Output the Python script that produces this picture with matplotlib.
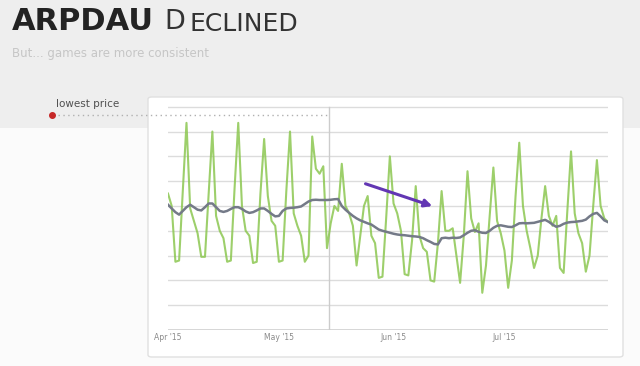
import matplotlib.pyplot as plt
from matplotlib.patches import FancyBboxPatch, Rectangle
from matplotlib.lines import Line2D

# --- data (daily values, arbitrary units) ---
daily = [
    5.5, 5.0, 2.75, 2.8, 5.6, 8.35, 4.9, 4.4, 3.9, 2.95,
    2.95, 5.5, 8.0, 4.6, 4.0, 3.7, 2.75, 2.8, 5.7, 8.35,
    5.0, 4.0, 3.8, 2.7, 2.75, 5.5, 7.7, 5.4, 4.4, 4.2,
    2.75, 2.8, 5.6, 8.0, 4.7, 4.2, 3.8, 2.75, 3.0, 7.8,
    6.5, 6.3, 6.6, 3.3, 4.3, 5.0, 4.8, 6.7, 5.0, 4.7,
    4.2, 2.6, 3.8, 5.0, 5.4, 3.8, 3.5, 2.1, 2.15, 4.5,
    7.0, 5.1, 4.7, 4.0, 2.25, 2.2, 3.6, 5.8, 3.8, 3.3,
    3.15, 2.0, 1.95, 3.5, 5.6, 4.0, 4.0, 4.1, 3.0, 1.9,
    3.8, 6.4, 4.5, 3.95, 4.3, 1.5, 2.6, 4.6, 6.55, 4.4,
    3.9, 3.2, 1.7, 2.8, 5.4, 7.55, 5.0, 4.0, 3.3, 2.5,
    3.0, 4.5, 5.8, 4.6, 4.2, 4.6, 2.5, 2.3, 4.8, 7.2,
    4.7, 3.9, 3.5, 2.35, 3.0, 5.0, 6.85, 5.0, 4.5, 4.35,
]
weekly_avg = [
    5.05, 4.9, 4.75, 4.65, 4.8, 4.95, 5.05, 4.95, 4.85, 4.82,
    4.95, 5.1, 5.1, 4.95, 4.8, 4.76, 4.8, 4.88, 4.95, 4.95,
    4.88, 4.78, 4.72, 4.75, 4.82, 4.9, 4.9, 4.8, 4.68, 4.58,
    4.6, 4.8, 4.9, 4.92, 4.93, 4.95, 4.98, 5.08, 5.18, 5.24,
    5.25, 5.24, 5.24, 5.24, 5.25, 5.27, 5.28, 5.0, 4.85, 4.72,
    4.6, 4.5, 4.42, 4.36, 4.3, 4.25, 4.15, 4.05, 4.0, 3.96,
    3.92, 3.88, 3.85, 3.83, 3.82, 3.8, 3.78, 3.77, 3.75, 3.7,
    3.62, 3.55, 3.47, 3.45, 3.7, 3.72, 3.7, 3.72, 3.71, 3.73,
    3.82, 3.92, 4.0, 4.02, 3.96, 3.92, 3.91, 4.0, 4.12, 4.2,
    4.22, 4.19, 4.16, 4.15, 4.22, 4.3, 4.31, 4.3, 4.31, 4.32,
    4.36, 4.4, 4.44, 4.36, 4.25, 4.16, 4.2, 4.28, 4.33, 4.35,
    4.36, 4.38, 4.4, 4.45, 4.58, 4.68, 4.72, 4.58, 4.42, 4.35,
]
days = list(range(len(daily)))

tick_days = [0, 30, 61, 91]
tick_labels = ["Apr '15", "May '15", "Jun '15", "Jul '15"]
price_change_day = 43.5
arrow_start = (52.7, 5.93)
arrow_end = (72.2, 4.96)

W, H = 640, 366


def fx(px):
    return px / W


def fy(py):
    # pixel rows are counted from the top
    return 1 - py / H


fig = plt.figure(figsize=(6.4, 3.66), dpi=100)
fig.patch.set_facecolor('#fbfbfb')

# grey header band
fig.patches.append(Rectangle((0, fy(128)), 1, 1 - fy(128), transform=fig.transFigure,
                             facecolor='#eeeeee', edgecolor='none', zorder=0))

# white card behind the chart
fig.patches.append(FancyBboxPatch((fx(148), fy(357)), fx(623 - 148), (357 - 97) / H,
                                  boxstyle='round,pad=0,rounding_size=0.006',
                                  transform=fig.transFigure, facecolor='#ffffff',
                                  edgecolor='#e0e0e0', linewidth=1.0, zorder=1))

# title: "ARPDAU" bold, "Declined" in small caps
fig.text(fx(12), fy(22), "ARPDAU", fontsize=22, fontweight='bold', family='DejaVu Sans',
         color='#232323', va='center', ha='left')
fig.text(fx(164), fy(22), "D", fontsize=19.5, family='DejaVu Sans', color='#333333',
         va='center', ha='left')
fig.text(fx(189), fy(24), "ECLINED", fontsize=18, family='DejaVu Sans', color='#333333',
         va='center', ha='left')
fig.text(fx(12), fy(53), "But... games are more consistent", fontsize=8.5,
         family='DejaVu Sans', color='#c6c6c6', va='center', ha='left')

# "lowest price" marker with dotted guide
fig.text(fx(56), fy(104), "lowest price", fontsize=7.5, family='DejaVu Sans',
         color='#505050', va='center', ha='left')
fig.lines.append(Line2D([fx(58), fx(328)], [fy(115), fy(115)], transform=fig.transFigure,
                        color='#b0b0b0', linestyle=(0, (1, 2.5)), linewidth=1.0, zorder=3))
fig.lines.append(Line2D([fx(52)], [fy(115)], transform=fig.transFigure, marker='o',
                        markersize=4, color='#c62828', zorder=4))

# chart
ax = fig.add_axes([fx(168), fy(330), fx(608 - 168), (330 - 104) / H])
ax.set_facecolor('none')
ax.set_zorder(2)
ax.set_xlim(0, len(daily) - 1)
ax.set_ylim(0, 9.11)

for v in range(1, 10):
    ax.axhline(v, color='#dcdcdc', linewidth=1.0, zorder=1)
ax.axhline(0, color='#cfcfcf', linewidth=1.2, zorder=1)
ax.axvline(price_change_day, ymax=0.985, color='#cccccc', linewidth=1.0, zorder=1)

ax.plot(days, daily, color='#8cc751', linewidth=1.5, alpha=0.85, zorder=3)
ax.plot(days, weekly_avg, color='#747a88', linewidth=1.8, zorder=4)

ax.annotate('', xy=arrow_end, xytext=arrow_start,
            arrowprops=dict(arrowstyle='-|>', color='#6236b3', lw=2.2,
                            mutation_scale=11), zorder=5)

for s in ax.spines.values():
    s.set_visible(False)
ax.set_yticks([])
ax.set_xticks(tick_days)
ax.set_xticklabels(tick_labels, fontsize=5.5, color='#8a8a8a')
ax.tick_params(axis='x', length=0, pad=2)

fig.savefig('out.png', dpi=100, facecolor=fig.get_facecolor())
